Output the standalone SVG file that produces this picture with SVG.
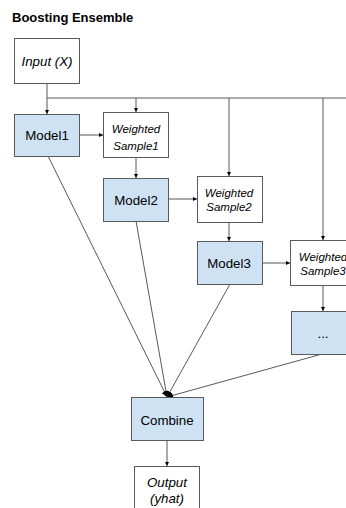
<svg xmlns="http://www.w3.org/2000/svg" width="346" height="508" viewBox="0 0 346 508">
<style>
.t{font-family:"Liberation Sans",Arial,sans-serif;fill:#000;text-anchor:middle}
.m{font-size:13.3px}
.i{font-style:italic}
.s{font-size:11.5px}
.blue{fill:#cfe2f3;stroke:#595959;stroke-width:1}
.white{fill:#fff;stroke:#595959;stroke-width:1}
.c{stroke:#595959;stroke-width:1;fill:none}
</style>
<defs>
<marker id="a" viewBox="0 0 10 10" refX="10" refY="5" markerWidth="4" markerHeight="4" orient="auto" markerUnits="userSpaceOnUse">
<path d="M0,0 L10,5 L0,10 z" fill="#000"/>
</marker>
<marker id="b" viewBox="0 0 10 10" refX="10" refY="5" markerWidth="6" markerHeight="6" orient="auto" markerUnits="userSpaceOnUse">
<path d="M0,0 L10,5 L0,10 z" fill="#000"/>
</marker>
</defs>
<rect width="346" height="508" fill="#fff"/>
<text x="12" y="22" style="font-family:'Liberation Sans',Arial,sans-serif;font-weight:bold;font-size:13px">Boosting Ensemble</text>
<g id="connectors">
<path class="c" d="M47,83 V114" marker-end="url(#a)"/>
<path class="c" d="M47,98 H346"/>
<path class="c" d="M136,98 V112" marker-end="url(#a)"/>
<path class="c" d="M229,98 V176" marker-end="url(#a)"/>
<path class="c" d="M323,98 V240" marker-end="url(#a)"/>
<path class="c" d="M79,135 H103" marker-end="url(#a)"/>
<path class="c" d="M136,157 V178" marker-end="url(#a)"/>
<path class="c" d="M169,199 H197" marker-end="url(#a)"/>
<path class="c" d="M229,222 V241" marker-end="url(#a)"/>
<path class="c" d="M262,263 H290" marker-end="url(#a)"/>
<path class="c" d="M323,285 V311" marker-end="url(#a)"/>
<path class="c" d="M48,156 L167,397" marker-end="url(#b)"/>
<path class="c" d="M136,221 L167,397" marker-end="url(#b)"/>
<path class="c" d="M230,284 L167,397" marker-end="url(#b)"/>
<path class="c" d="M322,354 L167,397" marker-end="url(#b)"/>
<path class="c" d="M167,440 V466" marker-end="url(#a)"/>
</g>
<g id="input">
<rect class="white" x="14.5" y="38.5" width="65" height="45"/>
<text class="t m i" x="47" y="66">Input (X)</text>
</g>
<g id="model1">
<rect class="blue" x="14.5" y="114.5" width="65" height="42"/>
<text class="t m" x="47" y="140">Model1</text>
</g>
<g id="ws1">
<rect class="white" x="103.5" y="112.5" width="65" height="45"/>
<text class="t s i" x="136" y="133">Weighted</text>
<text class="t s i" x="136" y="150">Sample1</text>
</g>
<g id="model2">
<rect class="blue" x="103.5" y="178.5" width="65" height="43"/>
<text class="t m" x="136" y="205">Model2</text>
</g>
<g id="ws2">
<rect class="white" x="197.5" y="176.5" width="65" height="46"/>
<text class="t s i" x="229" y="197">Weighted</text>
<text class="t s i" x="229" y="211">Sample2</text>
</g>
<g id="model3">
<rect class="blue" x="197.5" y="241.5" width="65" height="43"/>
<text class="t m" x="229" y="268">Model3</text>
</g>
<g id="ws3">
<rect class="white" x="290.5" y="240.5" width="66" height="45"/>
<text class="t s i" x="323" y="261">Weighted</text>
<text class="t s i" x="323" y="275">Sample3</text>
</g>
<g id="more">
<rect class="blue" x="291.5" y="311.5" width="66" height="43"/>
<text class="t m" x="323" y="338">...</text>
</g>
<g id="combine">
<rect class="blue" x="131.5" y="397.5" width="72" height="43"/>
<text class="t m" x="167" y="425">Combine</text>
</g>
<g id="output">
<rect class="white" x="134.5" y="466.5" width="65" height="50"/>
<text class="t m i" x="167" y="487">Output</text>
<text class="t m i" x="167" y="503">(yhat)</text>
</g>
</svg>
